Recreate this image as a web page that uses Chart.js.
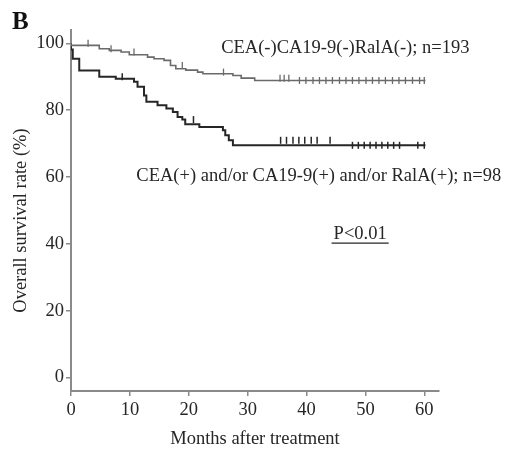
<!DOCTYPE html>
<html>
<head>
<meta charset="utf-8">
<script src="https://cdn.jsdelivr.net/npm/chart.js@4.4.1/dist/chart.umd.min.js"></script>
<style>
html,body{margin:0;padding:0;background:#fff;}
#wrap{width:517px;height:450px;position:relative;}
</style>
</head>
<body>
<div id="wrap"><canvas id="c" width="517" height="450"></canvas></div>
<script>
// Kaplan-Meier step data (months, survival %)
const negTimes = [0, 4.8, 6.5, 8.5, 9.9, 13.0, 14.1, 15.8, 16.9, 17.8, 19.5, 21.5, 22.4, 27.5, 28.9, 31.2, 38.2, 60.2];
const negSurv  = [100, 99.4, 98.4, 97.9, 97.4, 96.6, 95.9, 95.4, 94.9, 93.4, 92.4, 92.0, 91.4, 90.9, 90.4, 89.6, 88.9, 88.9];
const negCensor = [2.9, 6.8, 10.7, 18.9, 25.9, 35.5, 36.2, 37.0, 38.8, 39.9, 41.1, 42.2, 43.3, 44.4, 45.6, 46.7, 47.8, 48.9, 50.1, 51.2, 52.3, 53.4, 54.6, 55.7, 56.8, 58.0, 59.2, 60.0];

const posTimes = [0, 0.3, 1.4, 4.8, 7.6, 10.7, 11.3, 12.4, 12.8, 14.7, 16.2, 17.3, 18.1, 18.9, 19.4, 21.8, 25.8, 26.2, 26.8, 27.5, 45.0, 60.2];
const posSurv  = [100, 98.2, 95.4, 91.9, 90.0, 89.4, 88.5, 87.0, 84.4, 82.5, 81.5, 80.5, 79.5, 78.0, 77.2, 75.8, 75.0, 74.0, 72.5, 71.0, 69.5, 69.5];
const posCensor = [8.7, 20.8, 35.6, 36.6, 37.7, 38.7, 39.7, 40.8, 41.8, 44.0, 47.8, 48.8, 49.8, 50.8, 51.8, 52.8, 53.8, 54.8, 55.8, 58.9, 60.0];

const xTicks = [0, 10, 20, 30, 40, 50, 60];
const yTicks = [0, 20, 40, 60, 80, 100];

const labelNeg = 'CEA(-)CA19-9(-)RalA(-); n=193';
const labelPos = 'CEA(+) and/or CA19-9(+) and/or RalA(+); n=98';
const pLabel = 'P<0.01';
const panelLabel = 'B';
const xTitle = 'Months after treatment';
const yTitle = 'Overall survival rate (%)';

function survAt(times, surv, t) {
  let v = surv[0];
  for (let i = 0; i < times.length; i++) { if (times[i] <= t) v = surv[i]; }
  return v;
}
const toPts = (ts, ss) => ts.map((t, i) => ({x: t, y: ss[i]}));
const censorPts = (cs, ts, ss) => cs.map(t => ({x: t, y: survAt(ts, ss, t)}));

const SERIF = "'Liberation Serif', 'Times New Roman', serif";
const FS = 18.5;
const AXIS = '#8a8a8a';
const TXT = '#262626';

const textPlugin = {
  id: 'texts',
  afterDraw(chart) {
    const ctx = chart.ctx;
    const xs = chart.scales.x, ys = chart.scales.y;
    ctx.save();
    ctx.fillStyle = '#111';
    ctx.textBaseline = 'alphabetic';
    ctx.font = 'bold 25px ' + SERIF;
    ctx.textAlign = 'left';
    ctx.fillText(panelLabel, 12, 29);
    ctx.fillStyle = TXT;
    ctx.font = FS + 'px ' + SERIF;
    ctx.fillText(labelNeg, xs.getPixelForValue(25.5), ys.getPixelForValue(97.2));
    ctx.fillText(labelPos, xs.getPixelForValue(11.1), ys.getPixelForValue(58.8));
    const px = xs.getPixelForValue(44.6), py = ys.getPixelForValue(41.6);
    ctx.fillText(pLabel, px, py);
    const w = ctx.measureText(pLabel).width;
    ctx.strokeStyle = TXT; ctx.lineWidth = 1.2;
    ctx.beginPath(); ctx.moveTo(px - 2, py + 4.5); ctx.lineTo(px + w + 2, py + 4.5); ctx.stroke();
    // y axis title
    ctx.save();
    ctx.translate(21, ys.getPixelForValue(47));
    ctx.rotate(-Math.PI / 2);
    ctx.textAlign = 'center';
    ctx.textBaseline = 'middle';
    ctx.fillText(yTitle, 0, 0);
    ctx.restore();
    ctx.restore();
  }
};

new Chart(document.getElementById('c'), {
  type: 'line',
  data: {
    datasets: [
      { data: toPts(negTimes, negSurv), stepped: 'after', borderColor: '#6a6a6a', borderWidth: 1.6, pointRadius: 0, fill: false },
      { data: toPts(posTimes, posSurv), stepped: 'after', borderColor: '#262626', borderWidth: 2, pointRadius: 0, fill: false },
      { data: censorPts(negCensor, negTimes, negSurv), showLine: false, pointStyle: 'line', rotation: 90, pointRadius: 3.5, borderColor: '#6a6a6a', borderWidth: 1.3 },
      { data: censorPts(posCensor, posTimes, posSurv), showLine: false, pointStyle: 'line', rotation: 90, pointRadius: 3.5, borderColor: '#262626', borderWidth: 1.5 }
    ]
  },
  options: {
    responsive: false,
    animation: false,
    layout: { padding: { top: 30, right: 78, bottom: 0, left: 0 } },
    plugins: { legend: { display: false }, tooltip: { enabled: false } },
    scales: {
      x: {
        type: 'linear', min: 0, max: 62.5,
        afterBuildTicks(s) { s.ticks = xTicks.map(v => ({value: v})); },
        afterFit(s) { s.height = 59; },
        grid: { drawOnChartArea: false, drawTicks: true, tickLength: 5, color: AXIS, lineWidth: 1.5 },
        border: { color: AXIS, width: 2 },
        ticks: { color: TXT, font: { family: SERIF, size: FS }, padding: 3, maxRotation: 0 },
        title: { display: true, text: xTitle, color: TXT, font: { family: SERIF, size: FS }, padding: { top: 7, bottom: 0 } }
      },
      y: {
        type: 'linear', min: -4, max: 104,
        afterBuildTicks(s) { s.ticks = yTicks.map(v => ({value: v})); },
        afterFit(s) { s.width = 71; },
        grid: { drawOnChartArea: false, drawTicks: true, tickLength: 5, color: AXIS, lineWidth: 1.5 },
        border: { color: AXIS, width: 2 },
        ticks: { color: TXT, font: { family: SERIF, size: FS }, padding: 2 },
        title: { display: false }
      }
    }
  },
  plugins: [textPlugin]
});
</script>
</body>
</html>
